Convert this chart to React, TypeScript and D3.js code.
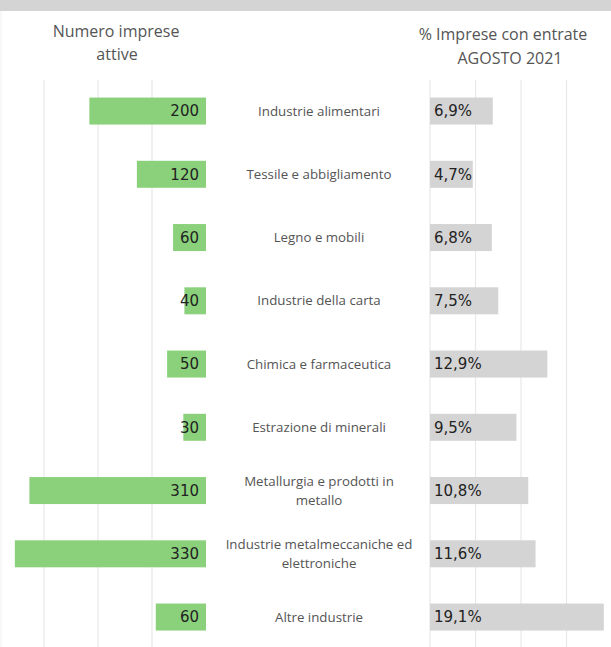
import React from "react";
import * as d3 from "d3";

const categories = [
  "Industrie alimentari",
  "Tessile e abbigliamento",
  "Legno e mobili",
  "Industrie della carta",
  "Chimica e farmaceutica",
  "Estrazione di minerali",
  "Metallurgia e prodotti in|metallo",
  "Industrie metalmeccaniche ed|elettroniche",
  "Altre industrie",
];
// bar lengths and displayed labels
const impreseValues = [216, 128, 61, 40, 72, 42, 327, 354, 93];
const impreseLabels = ["200", "120", "60", "40", "50", "30", "310", "330", "60"];
const entratePct = [6.9, 4.7, 6.8, 7.5, 12.9, 9.5, 10.8, 11.6, 19.1];
const leftTicks = [0, 100, 200, 300];
const rightTicks = [0, 5, 10, 15];

const W = 611;
const H = 647;

export default function App() {
  const y = d3
    .scaleBand<string>()
    .domain(categories)
    .range([61.3, 666.8])
    .paddingInner(0.573)
    .paddingOuter(0.573);
  const xL = d3.scaleLinear().domain([0, 300]).range([206, 44]);
  const xR = d3.scaleLinear().domain([0, 15]).range([430, 566.5]);
  const fmt = (v: number) => v.toFixed(1).replace(".", ",") + "%";
  const bw = y.bandwidth();
  const headFont = "'Open Sans', sans-serif";
  const valFont = "'DejaVu Sans', Verdana, sans-serif";

  return (
    <svg
      width={W}
      height={H}
      style={{ position: "absolute", left: 0, top: 0, background: "#fff" }}
    >
      <rect x={0} y={0} width={W} height={11} fill="#d4d4d4" />
      <line x1={1} x2={1} y1={11} y2={H} stroke="#f0f0f0" />
      {leftTicks
        .filter((t) => t > 0)
        .map((t) => (
          <line key={"l" + t} x1={xL(t)} x2={xL(t)} y1={80} y2={H} stroke="#e8e8e8" strokeWidth={1.2} />
        ))}
      {rightTicks.map((t) => (
        <line key={"r" + t} x1={xR(t)} x2={xR(t)} y1={80} y2={H} stroke="#e8e8e8" strokeWidth={1.2} />
      ))}
      <g fontFamily={headFont} fontSize={16} fill="#555" textAnchor="middle">
        <text x={116} y={37}>Numero imprese</text>
        <text x={117} y={60}>attive</text>
        <text x={503} y={40}>% Imprese con entrate</text>
        <text x={510} y={64}>AGOSTO 2021</text>
      </g>
      {categories.map((c, i) => {
        const y0 = y(c)!;
        const cy = y0 + bw / 2;
        const lines = c.split("|");
        return (
          <g key={c}>
            <rect
              x={xL(impreseValues[i])}
              y={y0}
              width={xL(0) - xL(impreseValues[i])}
              height={bw}
              fill="#8bd17c"
            />
            <text
              x={199}
              y={cy}
              dy="0.36em"
              textAnchor="end"
              fontFamily={valFont}
              fontSize={15}
              fill="#222"
            >
              {impreseLabels[i]}
            </text>
            <rect
              x={xR(0)}
              y={y0}
              width={xR(entratePct[i]) - xR(0)}
              height={bw}
              fill="#d4d4d4"
            />
            <text
              x={434}
              y={cy}
              dy="0.36em"
              fontFamily={valFont}
              fontSize={15}
              fill="#222"
            >
              {fmt(entratePct[i])}
            </text>
            {lines.map((ln, j) => (
              <text
                key={j}
                x={319}
                y={cy + (j - (lines.length - 1) / 2) * 19}
                dy="0.35em"
                textAnchor="middle"
                fontFamily={headFont}
                fontSize={13.3}
                fill="#555"
              >
                {ln}
              </text>
            ))}
          </g>
        );
      })}
    </svg>
  );
}
